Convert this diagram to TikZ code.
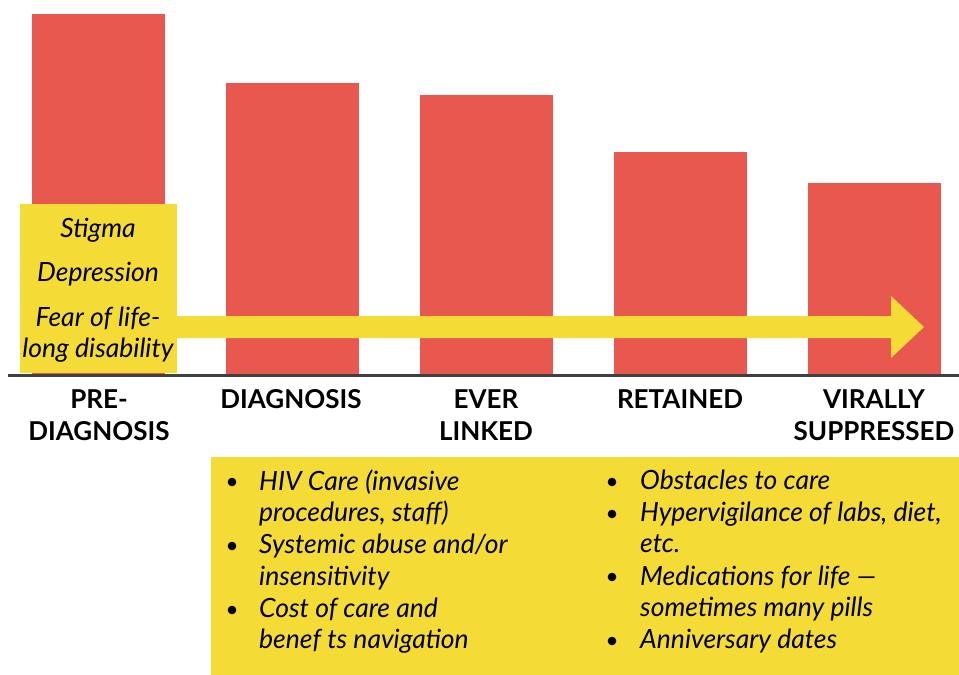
\documentclass[tikz,border=0pt]{standalone}
\usepackage{fontspec}
\setmainfont{Lato}
\definecolor{barred}{HTML}{E9584F}
\definecolor{hlyellow}{HTML}{F4DB36}
\definecolor{axisgray}{HTML}{404040}
\begin{document}
\begin{tikzpicture}[x=1pt,y=-1pt,
  bar/.style={fill=barred,draw=none},
  ybox/.style={fill=hlyellow,draw=none},
  stage/.style={font=\fontsize{26}{26}\selectfont\bfseries,anchor=base,inner sep=0pt},
  side/.style={font=\fontsize{26.5}{26.5}\selectfont\itshape,anchor=base,inner sep=0pt},
  item/.style={font=\fontsize{26.5}{26.5}\selectfont\itshape,anchor=base west,inner sep=0pt},
  dot/.style={fill=black,draw=none}]
\useasboundingbox (0,0) rectangle (959,675);
% bars
\fill[bar] (32,14) rectangle (165,374);
\fill[bar] (226,83) rectangle (359,374);
\fill[bar] (420,95) rectangle (553,374);
\fill[bar] (614,152) rectangle (747,374);
\fill[bar] (808,183) rectangle (941,374);
% arrow
\fill[ybox] (150,316) -- (891,316) -- (891,296) -- (924,327) -- (891,358) -- (891,338) -- (150,338) -- cycle;
% left box
\fill[ybox] (20,204) rectangle (177,373);
\node[side] (s1) at (98,237) {Stigma};
\node[side] (s2) at (98,281) {Depression};
\node[side] (s3) at (98,326) {Fear of life-};
\node[side] (s4) at (98,357) {long disability};
% axis
\draw[axisgray,line width=3pt] (8,375.5) -- (959,375.5);
% stage labels
\node[stage] (l1a) at (99,408) {PRE-};
\node[stage] (l1b) at (99,440) {DIAGNOSIS};
\node[stage] (l2) at (291,408) {DIAGNOSIS};
\node[stage] (l3a) at (486,408) {EVER};
\node[stage] (l3b) at (486,440) {LINKED};
\node[stage] (l4) at (680,408) {RETAINED};
\node[stage] (l5a) at (874,408) {VIRALLY};
\node[stage] (l5b) at (874,440) {SUPPRESSED};
% bottom box
\fill[ybox] (211,457) rectangle (959,675);
\foreach \yy in {482,546,610} {\fill[dot] (232,\yy) circle (4.3);}
\foreach \yy in {482,514,577,641} {\fill[dot] (612,\yy) circle (4.3);}
\node[item] (a1) at (259,490) {HIV Care (invasive};
\node[item] (a2) at (259,521) {procedures, staff)};
\node[item] (a3) at (259,553) {Systemic abuse and/or};
\node[item] (a4) at (259,585) {insensitivity};
\node[item] (a5) at (259,617) {Cost of care and};
\node[item] (a6) at (259,648) {benef ts navigation};
\node[item] (b1) at (640,489) {Obstacles to care};
\node[item] (b2) at (640,521) {Hypervigilance of labs, diet,};
\node[item] (b3) at (640,552) {etc.};
\node[item] (b4) at (640,585) {Medications for life —};
\node[item] (b5) at (640,616) {sometimes many pills};
\node[item] (b6) at (640,648) {Anniversary dates};
\end{tikzpicture}
\end{document}
